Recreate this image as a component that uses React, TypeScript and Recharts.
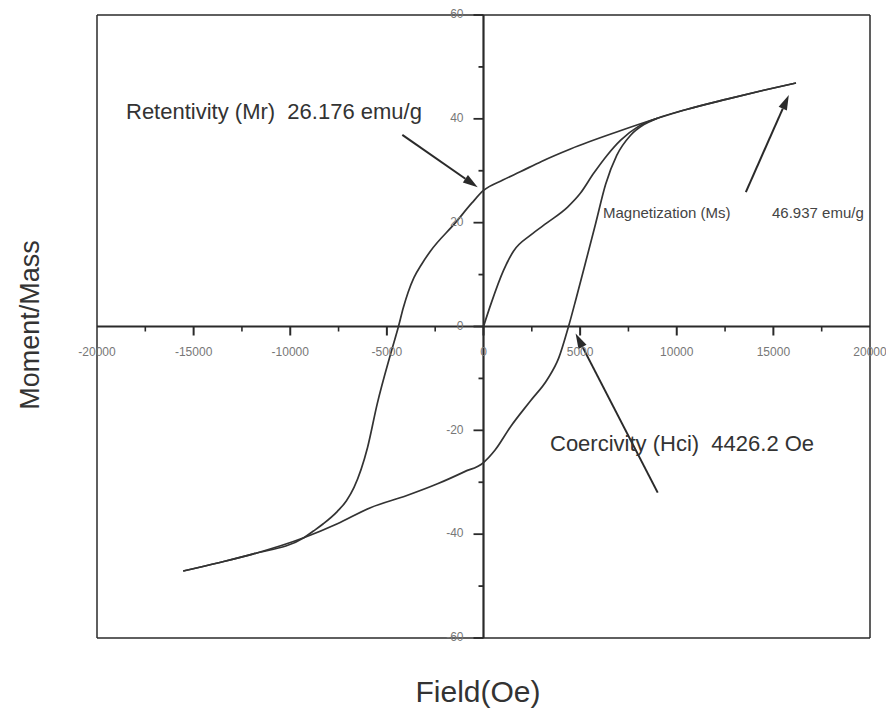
import { LineChart, Line, XAxis, YAxis, ReferenceLine } from 'recharts';

// hysteresis loop, field (Oe) vs moment/mass (emu/g)
const virginH = [0, 400, 1036, 1550, 2435, 3300, 4352, 5000, 5700, 6400, 7100, 8000, 9000];
const virginM = [0, 4.5, 10.8, 14.5, 17.6, 20, 23, 25.6, 29.5, 33, 35.9, 38.5, 40.1];

const descH = [-15540, -13700, -11900, -9300, -8800, -8290, -7560, -7100, -6700, -6000, -5500, -4800, -4400, -4150, -3900, -3600, -3200, -2750, -1450, -600, 0, 1000, 1900, 3000, 4500, 7000, 9000, 10500, 12600, 14500, 16170];
const descM = [-47.1, -45.5, -43.8, -40.7, -39.4, -38, -35.6, -33.6, -31, -23.3, -14.9, -5.2, 0, 3.6, 6.6, 9.4, 12, 14.5, 20, 23.8, 26.2, 28.2, 29.8, 31.8, 34.2, 37.6, 40.1, 41.8, 43.8, 45.5, 46.9];

const ascH = [-15540, -13700, -11900, -9300, -7560, -5850, -4000, -2380, -1000, 0, 600, 1400, 2435, 3300, 3900, 4400, 4800, 5300, 5800, 6320, 6900, 7600, 8300, 9000, 10500, 12600, 14500, 16170];
const ascM = [-47.1, -45.5, -43.8, -40.7, -38, -34.9, -32.6, -30.3, -28, -26.2, -23.8, -19.3, -14.3, -10.2, -6, 0, 5.5, 12.6, 19.8, 27.4, 33, 36.8, 38.9, 40.1, 41.8, 43.8, 45.5, 46.9];

const xTicks = [-20000, -17500, -15000, -12500, -10000, -7500, -5000, -2500, 0, 2500, 5000, 7500, 10000, 12500, 15000, 17500, 20000];
const yTicks = [-60, -50, -40, -30, -20, -10, 0, 10, 20, 30, 40, 50, 60];

// annotation arrows: [fromH, fromM, toH, toM]
const arrowMr = [-4200, 36.9, -300, 26.8];
const arrowMs = [13575, 25.9, 15800, 44.6];
const arrowHci = [9015, -32.0, 4767, -1.35];

const toRows = (h: number[], m: number[]) => h.map((v, i) => ({ h: v, m: m[i] }));

const W = 886, H = 708;
const LEFT = 97, TOP = 15, RIGHT = 16, BOTTOM = 70;
const AX_H = 20, AX_W = 30;
const CX = LEFT + (W - LEFT - RIGHT) / 2;
const CY = TOP + (H - TOP - BOTTOM) / 2;
const FONT = '"Liberation Sans", Arial, sans-serif';
const INK = '#2a2a2a';

function XTick(props: any) {
  const { x, payload } = props;
  const v = payload.value as number;
  const major = v % 5000 === 0;
  const edge = Math.abs(v) === 20000;
  return (
    <g>
      {!edge && <line x1={x} x2={x} y1={CY} y2={CY + (major ? 9 : 5)} stroke={INK} strokeWidth={major ? 2 : 1.6} />}
      {major && (
        <text x={x} y={CY + 26} textAnchor="middle" dominantBaseline="middle" fontSize={12} fill="#777" fontFamily={FONT}>{v}</text>
      )}
    </g>
  );
}

function YTick(props: any) {
  const { y, payload } = props;
  const v = payload.value as number;
  const major = v % 20 === 0;
  return (
    <g>
      <line x1={CX - (major ? 10 : 5)} x2={CX} y1={y} y2={y} stroke={INK} strokeWidth={1.8} />
      {major && (
        <text x={CX - 20} y={y} textAnchor="end" dominantBaseline="middle" fontSize={12} fill="#777" fontFamily={FONT}>{v}</text>
      )}
    </g>
  );
}

function Arrow(props: any) {
  const { x1, y1, x2, y2 } = props;
  const a = Math.atan2(y2 - y1, x2 - x1);
  const len = 15, half = 4.5;
  const bx = x2 - len * Math.cos(a), by = y2 - len * Math.sin(a);
  const px = -Math.sin(a) * half, py = Math.cos(a) * half;
  return (
    <g>
      <line x1={x1} y1={y1} x2={bx} y2={by} stroke={INK} strokeWidth={2} />
      <polygon points={`${x2},${y2} ${bx + px},${by + py} ${bx - px},${by - py}`} fill={INK} />
    </g>
  );
}

const seg = (a: number[]) => [{ x: a[0], y: a[1] }, { x: a[2], y: a[3] }] as any;

export default function App() {
  return (
    <div style={{ position: 'absolute', left: 0, top: 0, width: W, height: H, background: '#fff', fontFamily: FONT }}>
      <LineChart width={W} height={H} margin={{ top: TOP, right: RIGHT, bottom: BOTTOM - AX_H, left: LEFT - AX_W }}>
        <XAxis type="number" dataKey="h" domain={[-20000, 20000]} ticks={xTicks} interval={0} height={AX_H}
          axisLine={false} tickLine={false} tick={(p: any) => <XTick {...p} />} allowDataOverflow />
        <YAxis type="number" dataKey="m" domain={[-60, 60]} ticks={yTicks} interval={0} width={AX_W}
          axisLine={false} tickLine={false} tick={(p: any) => <YTick {...p} />} allowDataOverflow />
        <ReferenceLine x={-20000} stroke={INK} strokeWidth={1.5} />
        <ReferenceLine x={20000} stroke={INK} strokeWidth={1.5} />
        <ReferenceLine y={60} stroke={INK} strokeWidth={1.5} />
        <ReferenceLine y={-60} stroke={INK} strokeWidth={1.5} />
        <ReferenceLine x={0} stroke={INK} strokeWidth={2.2} />
        <ReferenceLine y={0} stroke={INK} strokeWidth={2.2} />
        <Line data={toRows(virginH, virginM)} dataKey="m" type="monotone" stroke="#333" strokeWidth={1.7} dot={false} isAnimationActive={false} />
        <Line data={toRows(descH, descM)} dataKey="m" type="monotone" stroke="#333" strokeWidth={1.7} dot={false} isAnimationActive={false} />
        <Line data={toRows(ascH, ascM)} dataKey="m" type="monotone" stroke="#333" strokeWidth={1.7} dot={false} isAnimationActive={false} />
        <ReferenceLine segment={seg(arrowMr)} shape={<Arrow />} />
        <ReferenceLine segment={seg(arrowMs)} shape={<Arrow />} />
        <ReferenceLine segment={seg(arrowHci)} shape={<Arrow />} />
      </LineChart>
      <div style={{ position: 'absolute', left: 126, top: 99, fontSize: 22, lineHeight: '26px', color: '#333', whiteSpace: 'pre' }}>
        {'Retentivity (Mr)  26.176 emu/g'}
      </div>
      <div style={{ position: 'absolute', left: 603, top: 204, fontSize: 15, lineHeight: '18px', color: '#444', whiteSpace: 'pre' }}>
        Magnetization (Ms)
      </div>
      <div style={{ position: 'absolute', left: 772, top: 204, fontSize: 15, lineHeight: '18px', color: '#444', whiteSpace: 'pre' }}>
        46.937 emu/g
      </div>
      <div style={{ position: 'absolute', left: 550, top: 431, fontSize: 22, lineHeight: '26px', color: '#333', whiteSpace: 'pre' }}>
        {'Coercivity (Hci)  4426.2 Oe'}
      </div>
      <div style={{ position: 'absolute', left: 30, top: 325, transform: 'translate(-50%, -50%) rotate(-90deg)', fontSize: 27, lineHeight: '32px', color: '#333', whiteSpace: 'pre' }}>
        Moment/Mass
      </div>
      <div style={{ position: 'absolute', left: 478, top: 692, transform: 'translate(-50%, -50%)', fontSize: 30, lineHeight: '34px', color: '#333', whiteSpace: 'pre' }}>
        Field(Oe)
      </div>
    </div>
  );
}
